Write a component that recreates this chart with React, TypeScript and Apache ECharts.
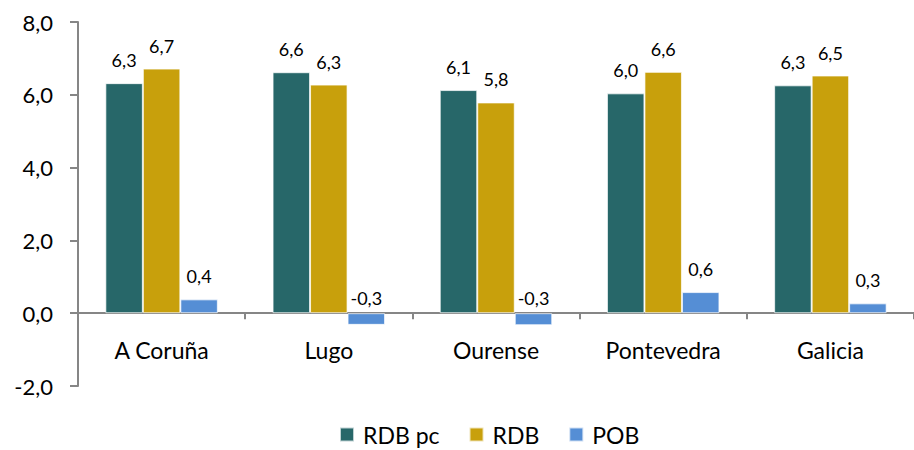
import React, { useEffect, useRef } from "react";
import * as echarts from "echarts";

const categories = ["A Coruña", "Lugo", "Ourense", "Pontevedra", "Galicia"];
const rdbPc = [6.32, 6.62, 6.13, 6.04, 6.26];
const rdb = [6.72, 6.28, 5.79, 6.63, 6.53];
const pob = [0.38, -0.32, -0.33, 0.58, 0.27];
const seriesNames = ["RDB pc", "RDB", "POB"];
const colors = ["#276769", "#C8A00C", "#558ED5"];

const FONT = "Lato";
const fmt = (v: number) => v.toFixed(1).replace(".", ",");

export default function App() {
  const ref = useRef<HTMLDivElement>(null);
  useEffect(() => {
    document.body.style.margin = "0";
    const chart = echarts.init(ref.current!, null, { renderer: "svg" });
    const mk = (name: string, data: number[], color: string) => ({
      name,
      type: "bar",
      barWidth: 37.5,
      barGap: "0%",
      itemStyle: { color, borderColor: "rgba(255,255,255,0.7)", borderWidth: 1 },
      data: data.map((v) => ({
        value: v,
        label: { distance: v < 0 ? 6 : 14 },
      })),
      label: {
        show: true,
        position: "top",
        fontFamily: FONT,
        fontSize: 18,
        color: "#000",
        formatter: (p: any) => fmt(p.value),
      },
    });
    chart.setOption({
      animation: false,
      color: colors,
      grid: { left: 78, right: -10, top: 22, bottom: 64, containLabel: false },
      legend: {
        top: 423,
        left: 339,
        padding: 0,
        itemWidth: 14,
        itemHeight: 14,
        itemGap: 29,
        icon: "rect",
        textStyle: {
          fontFamily: FONT,
          fontSize: 23,
          lineHeight: 22,
          color: "#000",
          padding: [0, 0, 0, 4],
        },
        data: seriesNames,
      },
      xAxis: {
        type: "category",
        data: categories,
        axisLine: { onZero: true, lineStyle: { color: "#868686", width: 2 } },
        axisTick: { show: true, length: 6, lineStyle: { color: "#868686", width: 2 } },
        axisLabel: { fontFamily: FONT, fontSize: 23, color: "#000", margin: -48 },
      },
      yAxis: {
        type: "value",
        min: -2,
        max: 8,
        interval: 2,
        splitLine: { show: false },
        axisLine: { show: true, lineStyle: { color: "#868686", width: 2 } },
        axisTick: { show: true, length: 8, lineStyle: { color: "#868686", width: 2 } },
        axisLabel: {
          fontFamily: FONT,
          fontSize: 22,
          color: "#000",
          margin: 25,
          formatter: (v: number) => fmt(v),
        },
      },
      series: [
        mk(seriesNames[0], rdbPc, colors[0]),
        mk(seriesNames[1], rdb, colors[1]),
        mk(seriesNames[2], pob, colors[2]),
      ],
    });
    return () => chart.dispose();
  }, []);
  return <div ref={ref} style={{ width: 914, height: 450 }} />;
}
